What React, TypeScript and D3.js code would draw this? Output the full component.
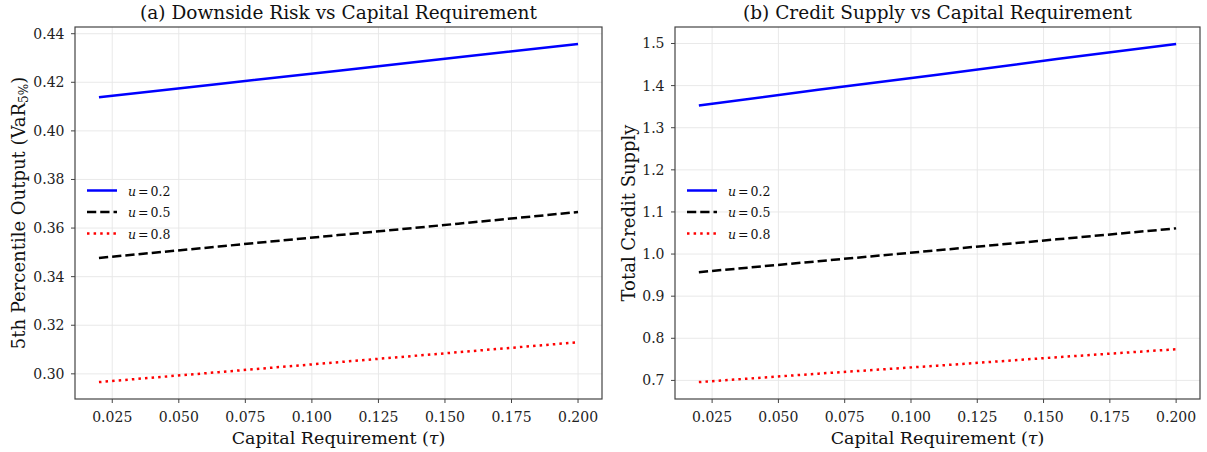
import React from "react";
import * as d3 from "d3";

// tau values and series (lines are straight)
const tau = [0.02, 0.065, 0.11, 0.155, 0.2];
const varLow = [0.4138, 0.4193, 0.4248, 0.4303, 0.4358];
const varMid = [0.3477, 0.3524, 0.3571, 0.3618, 0.3666];
const varHigh = [0.2966, 0.3007, 0.3048, 0.3089, 0.3130];
const creditLow = [1.353, 1.390, 1.426, 1.463, 1.499];
const creditMid = [0.957, 0.983, 1.009, 1.035, 1.061];
const creditHigh = [0.696, 0.716, 0.735, 0.755, 0.774];

const xTicks = [0.025, 0.05, 0.075, 0.1, 0.125, 0.15, 0.175, 0.2];
const yTicksA = [0.3, 0.32, 0.34, 0.36, 0.38, 0.4, 0.42, 0.44];
const yTicksB = [0.7, 0.8, 0.9, 1.0, 1.1, 1.2, 1.3, 1.4, 1.5];
const uLabels = ["0.2", "0.5", "0.8"];

const font = "'DejaVu Serif', serif";
const styles = [
  { color: "#0000ff", dash: "" },
  { color: "#000000", dash: "9.25,4" },
  { color: "#ff0000", dash: "2.5,4.1" },
];

// matplotlib-ish 5% margins
function padded(lo: number, hi: number) {
  const m = (hi - lo) * 0.05;
  return [lo - m, hi + m];
}

const Panel = (props: any) => {
  const { left, right, top, bottom, series, yTicks, yFmt, title, ylabel, ylabelX } = props;
  const all = series.flat();
  const x = d3.scaleLinear().domain(padded(0.02, 0.2)).range([left, right]);
  const y = d3
    .scaleLinear()
    .domain(padded(d3.min(all) as number, d3.max(all) as number))
    .range([bottom, top]);
  const line = d3
    .line<number>()
    .x((d, i) => x(tau[i]))
    .y((d) => y(d));
  const cx = (left + right) / 2;

  return (
    <g fontFamily={font}>
      <text x={cx} y={19} textAnchor="middle" fontSize={18.5} fill="#111">
        {title}
      </text>
      {xTicks.map((t) => (
        <line key={"gx" + t} x1={x(t)} x2={x(t)} y1={top} y2={bottom} stroke="#e6e6e6" strokeWidth={0.9} />
      ))}
      {yTicks.map((t: number) => (
        <line key={"gy" + t} x1={left} x2={right} y1={y(t)} y2={y(t)} stroke="#e6e6e6" strokeWidth={0.9} />
      ))}
      {series.map((s: number[], i: number) => (
        <path
          key={"s" + i}
          d={line(s) as string}
          fill="none"
          stroke={styles[i].color}
          strokeWidth={2.5}
          strokeDasharray={styles[i].dash}
        />
      ))}
      <rect x={left} y={top} width={right - left} height={bottom - top} fill="none" stroke="#444" strokeWidth={1.2} />
      {xTicks.map((t) => (
        <g key={"tx" + t}>
          <line x1={x(t)} x2={x(t)} y1={bottom} y2={bottom + 4} stroke="#444" />
          <text x={x(t)} y={bottom + 22.5} textAnchor="middle" fontSize={14} fill="#222">
            {t.toFixed(3)}
          </text>
        </g>
      ))}
      {yTicks.map((t: number) => (
        <g key={"ty" + t}>
          <line x1={left - 4} x2={left} y1={y(t)} y2={y(t)} stroke="#444" />
          <text x={left - 10.5} y={y(t) + 5} textAnchor="end" fontSize={14} fill="#222">
            {yFmt(t)}
          </text>
        </g>
      ))}
      <text x={cx} y={444} textAnchor="middle" fontSize={17.5} fill="#111">
        Capital Requirement (<tspan fontStyle="italic">τ</tspan>)
      </text>
      <text
        transform={`translate(${ylabelX},${(top + bottom) / 2}) rotate(-90)`}
        textAnchor="middle"
        fontSize={18}
        fill="#111"
      >
        {ylabel}
      </text>
      {uLabels.map((u, i) => (
        <g key={"lg" + u}>
          <line
            x1={left + 12}
            x2={left + 42}
            y1={190.5 + i * 21.5}
            y2={190.5 + i * 21.5}
            stroke={styles[i].color}
            strokeWidth={2.5}
            strokeDasharray={styles[i].dash}
          />
          <text x={left + 53} y={195.5 + i * 21.5} fontSize={12.5} fill="#111">
            <tspan fontStyle="italic">u</tspan>
            <tspan dx={2}>=</tspan>
            <tspan dx={2}>{u}</tspan>
          </text>
        </g>
      ))}
    </g>
  );
};

const App = () => {
  return (
    <svg width={1207} height={452} style={{ position: "absolute", left: 0, top: 0, background: "#fff" }}>
      <Panel
        left={75}
        right={602}
        top={27}
        bottom={399}
        series={[varLow, varMid, varHigh]}
        yTicks={yTicksA}
        yFmt={(t: number) => t.toFixed(2)}
        title="(a) Downside Risk vs Capital Requirement"
        ylabel={
          <>
            5th Percentile Output (VaR
            <tspan fontSize={12} dy={3}>5%</tspan>
            <tspan dy={-3}>)</tspan>
          </>
        }
        ylabelX={25}
      />
      <Panel
        left={675}
        right={1200}
        top={27}
        bottom={399}
        series={[creditLow, creditMid, creditHigh]}
        yTicks={yTicksB}
        yFmt={(t: number) => t.toFixed(1)}
        title="(b) Credit Supply vs Capital Requirement"
        ylabel="Total Credit Supply"
        ylabelX={635}
      />
    </svg>
  );
};

export default App;
